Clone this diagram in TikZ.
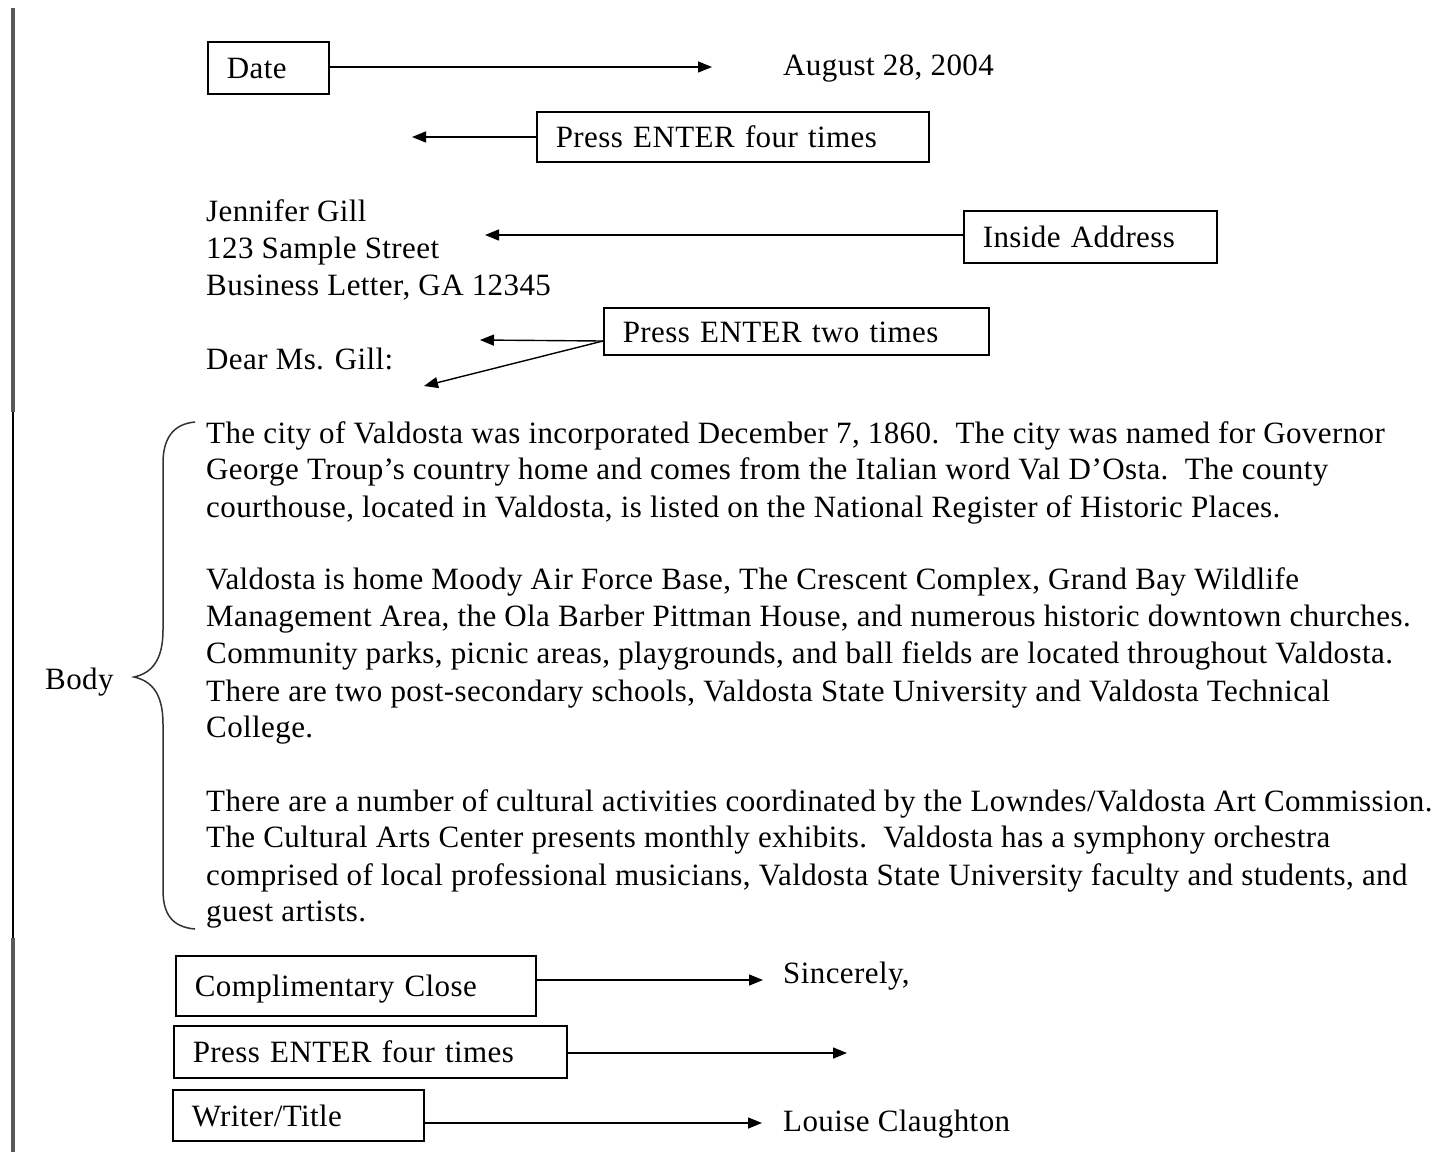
\documentclass[tikz,border=0pt]{standalone}
\usepackage{fontspec}
\setmainfont[LetterSpace=1.3]{Liberation Serif}
\usetikzlibrary{arrows.meta}
\begin{document}
\begin{tikzpicture}[x=1pt,y=-1pt,
  every node/.style={font=\fontsize{31}{37}\selectfont},
  box/.style={draw, line width=1.6pt, anchor=north west, inner xsep=19pt, inner ysep=0pt, align=left, text height=25pt, text depth=3pt},
  txt/.style={anchor=base west, inner sep=0pt},
  arr/.style={line width=1.4pt, -{Triangle[length=14pt,width=11pt]}},
  edgeline/.style={line width=4pt, draw=black!65},
  bracestyle/.style={line width=1.5pt, draw=black!80}]
\useasboundingbox (0,0) rectangle (1439,1152);
% left margin line
\draw[edgeline] (13,8) -- (13,412);
\draw[line width=2pt] (13,412) -- (13,938);
\draw[edgeline] (13,938) -- (13,1152);

% boxes
\node[box, minimum height=52pt, text width=83pt] (date) at (207,41) {Date};
\node[box, minimum height=50pt, text width=354pt] (four1) at (536,111) {Press ENTER four times};
\node[box, minimum height=52pt, text width=215pt] (inside) at (963,210) {Inside Address};
\node[box, minimum height=47pt, text width=347pt] (two) at (603,307) {Press ENTER two times};
\node[box, minimum height=60pt, text width=322pt] (close) at (175,955) {Complimentary Close};
\node[box, minimum height=52pt, text width=355pt] (four2) at (173,1025) {Press ENTER four times};
\node[box, minimum height=51pt, text width=213pt] (writer) at (172,1089) {Writer/Title};

% letter text
\node[txt] (datetxt) at (783,75) {August 28, 2004};
\node[txt] (a1) at (206,221) {Jennifer Gill};
\node[txt] (a2) at (206,258) {123 Sample Street};
\node[txt] (a3) at (206,295) {Business Letter, GA 12345};
\node[txt] (dear) at (206,369) {Dear Ms. Gill:};

\node[txt] (b1) at (206,443) {The city of Valdosta was incorporated December 7, 1860.\ \ The city was named for Governor};
\node[txt] (b2) at (206,479) {George Troup’s country home and comes from the Italian word Val D’Osta.\ \ The county};
\node[txt] (b3) at (206,517) {courthouse, located in Valdosta, is listed on the National Register of Historic Places.};
\node[txt] (b4) at (206,589) {Valdosta is home Moody Air Force Base, The Crescent Complex, Grand Bay Wildlife};
\node[txt] (b5) at (206,626) {Management Area, the Ola Barber Pittman House, and numerous historic downtown churches.};
\node[txt] (b6) at (206,663) {Community parks, picnic areas, playgrounds, and ball fields are located throughout Valdosta.};
\node[txt] (b7) at (206,701) {There are two post-secondary schools, Valdosta State University and Valdosta Technical};
\node[txt] (b8) at (206,737) {College.};
\node[txt] (b9) at (206,811) {There are a number of cultural activities coordinated by the Lowndes/Valdosta Art Commission.};
\node[txt] (b10) at (206,847) {The Cultural Arts Center presents monthly exhibits.\ \ Valdosta has a symphony orchestra};
\node[txt] (b11) at (206,885) {comprised of local professional musicians, Valdosta State University faculty and students, and};
\node[txt] (b12) at (206,921) {guest artists.};

\node[txt] (body) at (45,689) {Body};
\node[txt] (sinc) at (783,983) {Sincerely,};
\node[txt] (louise) at (783,1131) {Louise Claughton};

% brace
\draw[bracestyle] (195,422) .. controls (172,424) and (163,440) .. (163,463) -- (163,630)
  .. controls (163,660) and (152,673) .. (134,677)
  .. controls (152,681) and (163,694) .. (163,724) -- (163,890)
  .. controls (163,914) and (172,927) .. (195,929);

% arrow end points
\coordinate (e1) at (712,67);
\coordinate (e2) at (412,137);
\coordinate (e3) at (485,235);
\coordinate (tw) at (603,341);
\coordinate (e4) at (480,340);
\coordinate (e5) at (424,386);
\coordinate (e6) at (763,980);
\coordinate (e7) at (847,1053);
\coordinate (e8) at (762,1123);

\draw[arr] (date.east |- e1) -- (e1);
\draw[arr] (four1.west |- e2) -- (e2);
\draw[arr] (inside.west |- e3) -- (e3);
\draw[arr] (tw) -- (e4);
\draw[arr] (tw) -- (e5);
\draw[arr] (close.east |- e6) -- (e6);
\draw[arr] (four2.east |- e7) -- (e7);
\draw[arr] (writer.east |- e8) -- (e8);
\end{tikzpicture}
\end{document}
